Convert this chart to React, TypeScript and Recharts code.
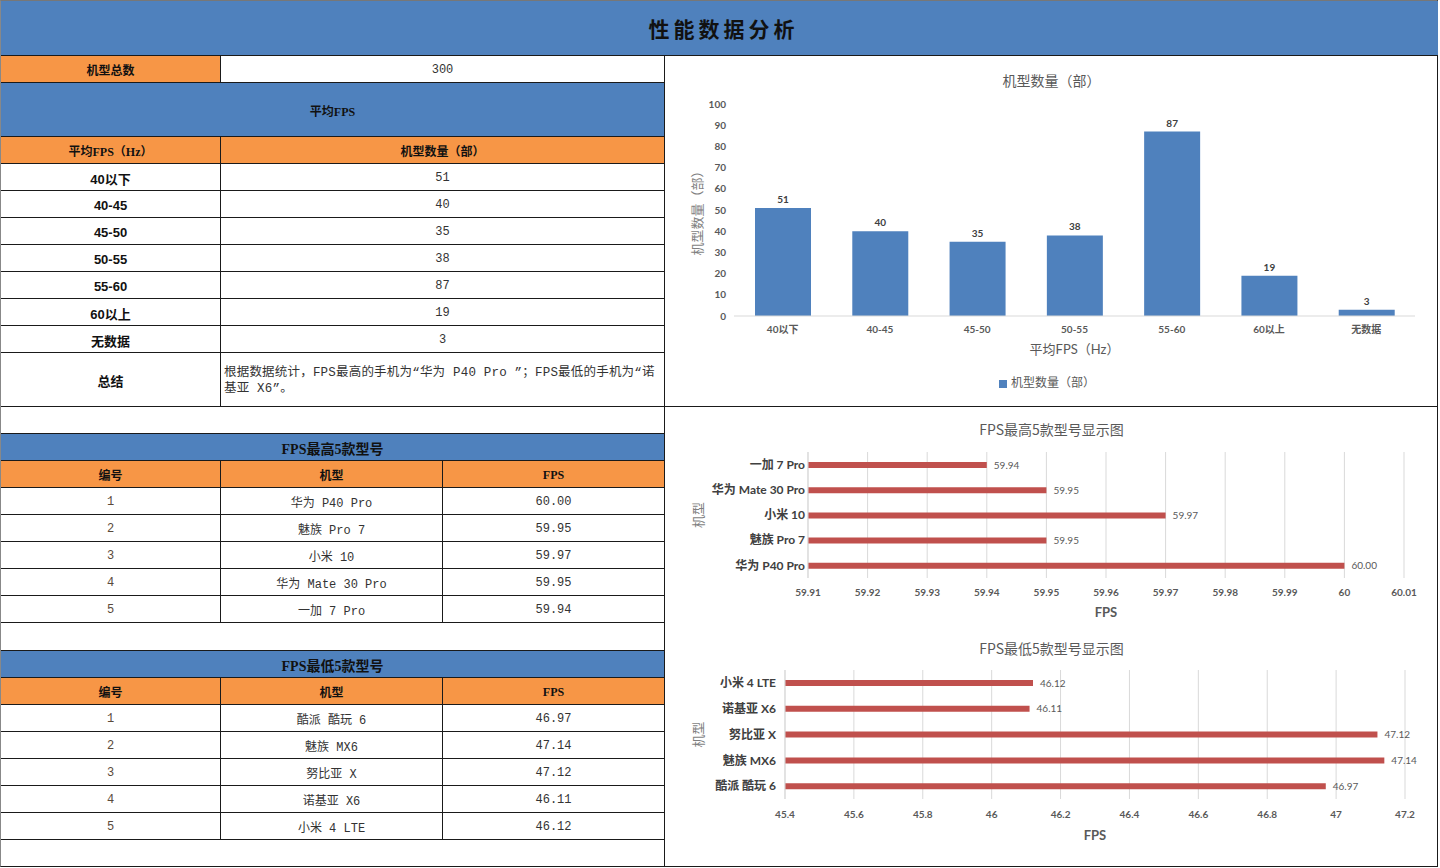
import React from 'react';
import { BarChart, Bar, XAxis, YAxis, CartesianGrid, Legend, LabelList } from 'recharts';

// Data
const totalModels = 300;
const fpsRanges = ['40以下', '40-45', '45-50', '50-55', '55-60', '60以上', '无数据'];
const modelCounts = [51, 40, 35, 38, 87, 19, 3];
const countTicks = [0, 10, 20, 30, 40, 50, 60, 70, 80, 90, 100];

const topModels = ['华为 P40 Pro', '魅族 Pro 7', '小米 10', '华为 Mate 30 Pro', '一加 7 Pro'];
const topFps = [60.0, 59.95, 59.97, 59.95, 59.94];
const topTicks = [59.91, 59.92, 59.93, 59.94, 59.95, 59.96, 59.97, 59.98, 59.99, 60, 60.01];

const lowModels = ['酷派 酷玩 6', '魅族 MX6', '努比亚 X', '诺基亚 X6', '小米 4 LTE'];
const lowFps = [46.97, 47.14, 47.12, 46.11, 46.12];
const lowTicks = [45.4, 45.6, 45.8, 46, 46.2, 46.4, 46.6, 46.8, 47, 47.2];

const summaryLines = ['根据数据统计，FPS最高的手机为“华为 P40 Pro ”；FPS最低的手机为“诺', '基亚 X6”。'];

const BLUE = '#4F81BD';
const ORANGE = '#F79646';
const RED = '#C0504D';
const LINE = '#1a1a1a';

const CHART_FONT = "Lato, 'Noto Sans CJK SC', sans-serif";
const HEAD_FONT = "'Liberation Serif', 'Noto Sans CJK SC', serif";
const BODY_FONT = "'Liberation Mono', 'Noto Sans CJK SC', monospace";
const CAT_FONT = "'Liberation Sans', 'Noto Sans CJK SC', sans-serif";

const countData = fpsRanges.map((name, i) => ({ name, count: modelCounts[i] }));
const topData = topModels.map((name, i) => ({ name, fps: topFps[i] }));
const lowData = lowModels.map((name, i) => ({ name, fps: lowFps[i] }));

const tickStyle = { fontSize: 10, fontWeight: 700, fill: '#595959', fontFamily: CHART_FONT };
const catTick = { fontSize: 12, fontWeight: 700, fill: '#404040', fontFamily: CHART_FONT };

type CellProps = {
  x0: number; x1: number; y0: number; y1: number;
  bg?: string; children?: React.ReactNode; style?: React.CSSProperties;
};

const Cell: React.FC<CellProps> = ({ x0, x1, y0, y1, bg = '#fff', children, style }) => (
  <div
    style={{
      position: 'absolute', left: x0, top: y0, width: x1 - x0, height: y1 - y0,
      boxSizing: 'border-box', borderRight: `1px solid ${LINE}`, borderBottom: `1px solid ${LINE}`,
      background: bg, display: 'flex', alignItems: 'center', justifyContent: 'center',
      fontSize: 12, color: '#333', fontFamily: BODY_FONT, whiteSpace: 'nowrap', paddingTop: 2, ...style,
    }}
  >
    {children}
  </div>
);

const bold: React.CSSProperties = { fontFamily: HEAD_FONT, fontWeight: 700, color: '#111', fontSize: 12 };
const catBold: React.CSSProperties = { fontFamily: CAT_FONT, fontWeight: 700, color: '#111', fontSize: 13 };

const C2 = [1, 221, 665];
const C3 = [1, 221, 443, 665];

const ModelTable: React.FC<{ top: number; title: string; models: string[]; fps: number[] }> = ({ top, title, models, fps }) => (
  <>
    <Cell x0={1} x1={665} y0={top} y1={top + 27} bg={BLUE} style={{ ...bold, fontSize: 14 }}>{title}</Cell>
    {['编号', '机型', 'FPS'].map((h, i) => (
      <Cell key={h} x0={C3[i]} x1={C3[i + 1]} y0={top + 27} y1={top + 54} bg={ORANGE} style={bold}>{h}</Cell>
    ))}
    {models.map((m, r) => {
      const y = top + 54 + r * 27;
      return (
        <React.Fragment key={m}>
          <Cell x0={C3[0]} x1={C3[1]} y0={y} y1={y + 27} style={{ color: '#5a4a3a' }}>{r + 1}</Cell>
          <Cell x0={C3[1]} x1={C3[2]} y0={y} y1={y + 27}>{m}</Cell>
          <Cell x0={C3[2]} x1={C3[3]} y0={y} y1={y + 27}>{fps[r].toFixed(2)}</Cell>
        </React.Fragment>
      );
    })}
  </>
);

const ChartTitle: React.FC<{ text: string; top: number }> = ({ text, top }) => (
  <div
    style={{
      position: 'absolute', left: 665, width: 773, top, textAlign: 'center',
      fontSize: 14, color: '#595959', fontFamily: "'Noto Sans CJK SC', sans-serif", zIndex: 2,
    }}
  >
    {text}
  </div>
);

export default function App() {
  return (
    <div
      style={{
        position: 'fixed', left: 0, top: 0, width: 1440, height: 868, background: '#fff',
        overflow: 'hidden', fontFamily: BODY_FONT,
      }}
    >
      {/* outer frame */}
      <div style={{ position: 'absolute', left: 0, top: 0, width: 1438, height: 867, boxSizing: 'border-box', borderLeft: '1px solid #888', borderTop: '1px solid #777', borderRight: `1px solid ${LINE}`, borderBottom: `1px solid ${LINE}` }} />

      {/* page title */}
      <div
        style={{
          position: 'absolute', left: 1, top: 1, width: 1437, height: 55, boxSizing: 'border-box',
          background: BLUE, borderBottom: `1px solid ${LINE}`, display: 'flex', alignItems: 'center',
          justifyContent: 'center', fontFamily: "'Noto Sans CJK SC', sans-serif", fontWeight: 700,
          fontSize: 21, letterSpacing: 4, color: '#111', paddingLeft: 8,
        }}
      >
        性能数据分析
      </div>

      {/* left tables */}
      <Cell x0={C2[0]} x1={C2[1]} y0={56} y1={83} bg={ORANGE} style={bold}>机型总数</Cell>
      <Cell x0={C2[1]} x1={C2[2]} y0={56} y1={83}>{totalModels}</Cell>
      <Cell x0={1} x1={665} y0={83} y1={137} bg={BLUE} style={bold}>平均FPS</Cell>
      <Cell x0={C2[0]} x1={C2[1]} y0={137} y1={164} bg={ORANGE} style={bold}>平均FPS（Hz）</Cell>
      <Cell x0={C2[1]} x1={C2[2]} y0={137} y1={164} bg={ORANGE} style={bold}>机型数量（部）</Cell>
      {fpsRanges.map((r, i) => {
        const y = 164 + i * 27;
        return (
          <React.Fragment key={r}>
            <Cell x0={C2[0]} x1={C2[1]} y0={y} y1={y + 27} style={catBold}>{r}</Cell>
            <Cell x0={C2[1]} x1={C2[2]} y0={y} y1={y + 27}>{modelCounts[i]}</Cell>
          </React.Fragment>
        );
      })}
      <Cell x0={C2[0]} x1={C2[1]} y0={353} y1={407} style={catBold}>总结</Cell>
      <Cell x0={C2[1]} x1={C2[2]} y0={353} y1={407} style={{ justifyContent: 'flex-start', paddingLeft: 3, fontSize: 12.5, lineHeight: '16px', letterSpacing: 0.2 }}>
        <div>
          {summaryLines.map((l) => (
            <div key={l}>{l}</div>
          ))}
        </div>
      </Cell>
      <Cell x0={1} x1={665} y0={407} y1={434} />
      <ModelTable top={434} title="FPS最高5款型号" models={topModels} fps={topFps} />
      <Cell x0={1} x1={665} y0={623} y1={651} />
      <ModelTable top={651} title="FPS最低5款型号" models={lowModels} fps={lowFps} />
      <Cell x0={1} x1={665} y0={840} y1={867} />

      {/* divider in right panel */}
      <div style={{ position: 'absolute', left: 665, top: 406, width: 773, height: 1, background: LINE }} />

      {/* chart 1: count by FPS range */}
      <ChartTitle text="机型数量（部）" top={70} />
      <div style={{ position: 'absolute', left: 665, top: 56 }}>
        <BarChart width={772} height={350} data={countData} margin={{ top: 48, right: 22, left: 0, bottom: 16 }}>
          <XAxis
            dataKey="name"
            tick={tickStyle}
            tickLine={false}
            axisLine={{ stroke: '#d9d9d9' }}
            tickMargin={4}
            height={57}
            label={{ value: '平均FPS（Hz）', position: 'insideBottom', offset: 19, fontSize: 13, fill: '#595959', fontFamily: CHART_FONT }}
          />
          <YAxis
            type="number"
            domain={[0, 100]}
            ticks={countTicks}
            tick={tickStyle}
            tickLine={false}
            axisLine={false}
            width={69}
            interval={0}
            label={{ value: '机型数量（部）', angle: -90, position: 'insideLeft', offset: 32, fontSize: 13, fill: '#7f7f7f', fontFamily: CHART_FONT, style: { textAnchor: 'middle' } }}
          />
          <Legend
            iconType="square"
            iconSize={8}
            wrapperStyle={{ fontSize: 12, fontFamily: CHART_FONT, left: 12 }}
            formatter={(v) => <span style={{ color: '#595959' }}>{v}</span>}
          />
          <Bar dataKey="count" name="机型数量（部）" fill={BLUE} barSize={56} isAnimationActive={false}>
            <LabelList dataKey="count" position="top" fill="#404040" fontSize={10} fontWeight={700} fontFamily={CHART_FONT} />
          </Bar>
        </BarChart>
      </div>

      {/* chart 2: top 5 */}
      <ChartTitle text="FPS最高5款型号显示图" top={419} />
      <div style={{ position: 'absolute', left: 665, top: 408 }}>
        <BarChart layout="vertical" width={772} height={225} data={topData} margin={{ top: 44, right: 33, left: 0, bottom: 0 }}>
          <CartesianGrid horizontal={false} stroke="#d9d9d9" />
          <XAxis
            type="number"
            domain={[59.91, 60.01]}
            ticks={topTicks}
            interval={0}
            allowDataOverflow
            tick={tickStyle}
            tickLine={false}
            axisLine={false}
            tickMargin={5}
            height={55}
            tickFormatter={(v) => String(v)}
            label={{ value: 'FPS', position: 'insideBottom', offset: 16, fontSize: 13, fontWeight: 700, fill: '#595959', fontFamily: CHART_FONT }}
          />
          <YAxis
            type="category"
            dataKey="name"
            reversed
            width={143}
            tickSize={0}
            tickMargin={3}
            tickLine={false}
            axisLine={{ stroke: '#d9d9d9' }}
            tick={catTick}
            label={{ value: '机型', angle: -90, position: 'insideLeft', offset: 33, fontSize: 13, fill: '#7f7f7f', fontFamily: CHART_FONT, style: { textAnchor: 'middle' } }}
          />
          <Bar dataKey="fps" fill={RED} barSize={6} isAnimationActive={false}>
            <LabelList dataKey="fps" position="right" offset={7} formatter={(v: any) => Number(v).toFixed(2)} fill="#595959" fontSize={10} fontFamily={CHART_FONT} />
          </Bar>
        </BarChart>
      </div>

      {/* chart 3: lowest 5 */}
      <ChartTitle text="FPS最低5款型号显示图" top={638} />
      <div style={{ position: 'absolute', left: 665, top: 633 }}>
        <BarChart layout="vertical" width={772} height={233} data={lowData} margin={{ top: 37, right: 32, left: 0, bottom: 22 }}>
          <CartesianGrid horizontal={false} stroke="#d9d9d9" />
          <XAxis
            type="number"
            domain={[45.4, 47.2]}
            ticks={lowTicks}
            interval={0}
            allowDataOverflow
            tick={tickStyle}
            tickLine={false}
            axisLine={false}
            tickMargin={6}
            height={45}
            tickFormatter={(v) => String(v)}
            label={{ value: 'FPS', position: 'insideBottom', offset: 4, fontSize: 13, fontWeight: 700, fill: '#595959', fontFamily: CHART_FONT }}
          />
          <YAxis
            type="category"
            dataKey="name"
            reversed
            width={120}
            tickSize={0}
            tickMargin={9}
            tickLine={false}
            axisLine={{ stroke: '#d9d9d9' }}
            tick={catTick}
            label={{ value: '机型', angle: -90, position: 'insideLeft', offset: 33, fontSize: 13, fill: '#7f7f7f', fontFamily: CHART_FONT, style: { textAnchor: 'middle' } }}
          />
          <Bar dataKey="fps" fill={RED} barSize={6} isAnimationActive={false}>
            <LabelList dataKey="fps" position="right" offset={7} formatter={(v: any) => Number(v).toFixed(2)} fill="#595959" fontSize={10} fontFamily={CHART_FONT} />
          </Bar>
        </BarChart>
      </div>
    </div>
  );
}
